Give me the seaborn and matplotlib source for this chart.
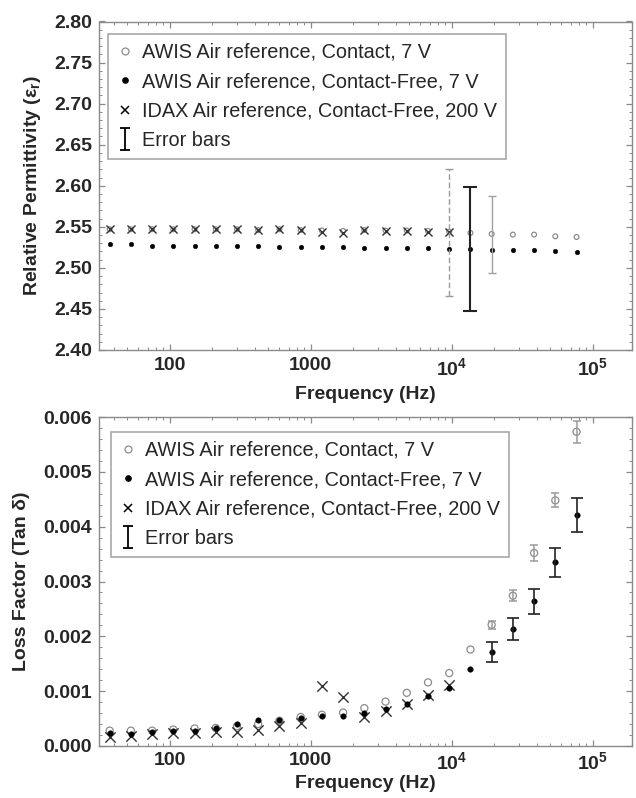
import matplotlib
matplotlib.use("Agg")
import matplotlib.pyplot as plt
import seaborn as sns
import numpy as np
import pandas as pd
from matplotlib.lines import Line2D
from matplotlib.path import Path
from matplotlib.ticker import FixedLocator, FixedFormatter, LogLocator, MultipleLocator, FormatStrFormatter, NullFormatter

# ---------------- data ----------------
freq = [37.5, 53, 75, 106, 150, 212, 300, 424, 600, 849, 1200, 1697, 2400,
        3394, 4800, 6788, 9600, 13576, 19200, 27153, 38400, 54306, 76800]
freq_idax = [37.5, 53, 75, 106, 150, 212, 300, 424, 600, 849, 1200, 1697, 2400,
             3394, 4800, 6788, 9600]

eps_contact = [2.547, 2.547, 2.547, 2.547, 2.547, 2.547, 2.547, 2.546, 2.547, 2.546,
               2.5455, 2.545, 2.546, 2.5455, 2.5455, 2.545, 2.544, 2.5426, 2.5413,
               2.5405, 2.5405, 2.5384, 2.5376]
eps_cf = [2.529, 2.5285, 2.527, 2.527, 2.527, 2.5265, 2.5265, 2.5265, 2.5256, 2.5256,
          2.5256, 2.5256, 2.5244, 2.5244, 2.5244, 2.5244, 2.5235, 2.5235, 2.522,
          2.5215, 2.5215, 2.520, 2.519]
eps_idax = [2.5475, 2.5475, 2.5475, 2.5475, 2.5475, 2.5475, 2.5475, 2.546, 2.5475,
            2.546, 2.5438, 2.5426, 2.546, 2.545, 2.545, 2.5438, 2.5438]

# permittivity error bars (frequency, centre, half-width)
eps_err_idax = (9600, 2.543, 0.077)
eps_err_cf = (13576, 2.523, 0.075)
eps_err_contact = (19200, 2.541, 0.047)

tan_contact = [0.00028, 0.00028, 0.00028, 0.00030, 0.00032, 0.00033, 0.00036, 0.00040,
               0.00046, 0.00053, 0.00057, 0.00061, 0.00069, 0.00081, 0.00097, 0.00116,
               0.00133, 0.00176, 0.00221, 0.00274, 0.00352, 0.00448, 0.00573]
tan_cf = [0.00023, 0.00021, 0.00025, 0.00027, 0.00027, 0.00033, 0.00041, 0.00047,
          0.00048, 0.00051, 0.00054, 0.00055, 0.00061, 0.00067, 0.00077, 0.00092,
          0.00106, 0.00141, 0.00171, 0.00213, 0.00264, 0.00335, 0.00421]
tan_idax = [0.00016, 0.00018, 0.00022, 0.00023, 0.00023, 0.00025, 0.00026, 0.00030,
            0.00037, 0.00042, 0.00110, 0.00089, 0.00052, 0.00064, 0.00076, 0.00093,
            0.00111]

# loss-factor error bars (last five frequencies)
err_freq = [19200, 27153, 38400, 54306, 76800]
tan_err_contact = [0.00007, 0.00010, 0.00014, 0.00013, 0.00020]
tan_err_cf = [0.00018, 0.00020, 0.00023, 0.00026, 0.00031]

labels = ["AWIS Air reference, Contact, 7 V",
          "AWIS Air reference, Contact-Free, 7 V",
          "IDAX Air reference, Contact-Free, 200 V",
          "Error bars"]

# ---------------- style ----------------
sns.set_style("ticks")
plt.rcParams["font.family"] = ["Liberation Sans", "DejaVu Sans"]
plt.rcParams["mathtext.fontset"] = "custom"
plt.rcParams["mathtext.rm"] = "Liberation Sans"
plt.rcParams["mathtext.bf"] = "Liberation Sans:bold"
plt.rcParams["mathtext.it"] = "Liberation Sans:italic"

GRAY = "#8c8c8c"
XCOL = "#333333"
SPINE = "#8a8a8a"

fig = plt.figure(figsize=(6.36, 7.98), dpi=100)
ax1 = fig.add_axes([99/636, 1-350/798, (632-99)/636, 328.5/798])
ax2 = fig.add_axes([99/636, 1-746/798, (632-99)/636, 329/798])

def scatter(ax, x, y, kind, big=False):
    if kind == "circle":
        sns.scatterplot(x=x, y=y, ax=ax, marker="o", s=(26 if big else 12), color=GRAY)
        pts = ax.collections[-1]
        pts.set_facecolor("none"); pts.set_edgecolor(GRAY); pts.set_linewidth(0.9)
    elif kind == "dot":
        sns.scatterplot(x=x, y=y, ax=ax, marker="o", s=(16 if big else 11), color="black")
        pts = ax.collections[-1]
        pts.set_edgecolor("black"); pts.set_linewidth(0.3)
    else:
        sns.scatterplot(x=x, y=y, ax=ax, marker="x", s=(55 if big else 34), color=XCOL)
        pts = ax.collections[-1]
        pts.set_edgecolor(XCOL); pts.set_facecolor(XCOL); pts.set_linewidth(1.0)

# ---------- top panel ----------
scatter(ax1, freq, eps_contact, "circle")
scatter(ax1, freq_idax, eps_idax, "x")
scatter(ax1, freq, eps_cf, "dot")
f, c, e = eps_err_idax
eb = ax1.errorbar([f], [c], yerr=[e], fmt="none", ecolor="#9a9a9a", elinewidth=1.0, capsize=3, capthick=1.0)
eb[2][0].set_linestyle((0, (4, 2)))
f, c, e = eps_err_cf
ax1.errorbar([f], [c], yerr=[e], fmt="none", ecolor="#222222", elinewidth=1.5, capsize=4.7, capthick=1.5)
f, c, e = eps_err_contact
ax1.errorbar([f], [c], yerr=[e], fmt="none", ecolor="#a0a0a0", elinewidth=1.0, capsize=3, capthick=1.0)

# ---------- bottom panel ----------
scatter(ax2, freq, tan_contact, "circle", big=True)
scatter(ax2, freq_idax, tan_idax, "x", big=True)
scatter(ax2, freq, tan_cf, "dot", big=True)
sel_c = [tan_contact[freq.index(v)] for v in err_freq]
sel_f = [tan_cf[freq.index(v)] for v in err_freq]
ax2.errorbar(err_freq, sel_c, yerr=tan_err_contact, fmt="none", ecolor="#9a9a9a",
             elinewidth=1.1, capsize=3, capthick=1.1)
ax2.errorbar(err_freq, sel_f, yerr=tan_err_cf, fmt="none", ecolor="#222222",
             elinewidth=1.2, capsize=4.2, capthick=1.2)

# ---------- axes formatting ----------
for ax, lp in ((ax1, 5), (ax2, 1)):
    ax.set_xscale("log")
    ax.set_xlim(31.5, 1.9e5)
    ax.xaxis.set_major_locator(FixedLocator([100, 1000, 1e4, 1e5]))
    ax.xaxis.set_major_formatter(FixedFormatter(["100", "1000", r"$\mathbf{10^4}$", r"$\mathbf{10^5}$"]))
    ax.xaxis.set_minor_locator(LogLocator(base=10, subs=np.arange(2, 10), numticks=20))
    ax.xaxis.set_minor_formatter(NullFormatter())
    ax.tick_params(which="both", direction="in", top=True, right=True, color=SPINE,
                   labelsize=14, pad=5)
    ax.tick_params(which="major", length=4, width=0.9)
    ax.tick_params(which="minor", length=2.5, width=0.7)
    for sp in ax.spines.values():
        sp.set_color(SPINE); sp.set_linewidth(1.0)
    ax.set_xlabel("Frequency (Hz)", fontsize=14, fontweight="bold", labelpad=lp)

ax2.tick_params(axis="x", pad=4)

ax1.set_ylim(2.40, 2.80)
ax1.yaxis.set_major_locator(MultipleLocator(0.05))
ax1.yaxis.set_minor_locator(MultipleLocator(0.01))
ax1.yaxis.set_major_formatter(FormatStrFormatter("%.2f"))
ax1.set_ylabel(r"Relative Permittivity (ε$_\mathbf{r}$)", fontsize=14, fontweight="bold", labelpad=8)

ax2.set_ylim(0.0, 0.006)
ax2.yaxis.set_major_locator(MultipleLocator(0.001))
ax2.yaxis.set_minor_locator(MultipleLocator(0.0002))
ax2.yaxis.set_major_formatter(FormatStrFormatter("%.3f"))
ax2.set_ylabel("Loss Factor (Tan δ)", fontsize=14, fontweight="bold", labelpad=10)

for ax in (ax1, ax2):
    for lbl in ax.get_xticklabels() + ax.get_yticklabels():
        lbl.set_fontweight("bold")

# ---------- legends ----------
ebar_path = Path([(-0.45, -1), (0.45, -1), (0, -1), (0, 1), (-0.45, 1), (0.45, 1)],
                 [Path.MOVETO, Path.LINETO, Path.MOVETO, Path.LINETO, Path.MOVETO, Path.LINETO])

def handles():
    return [
        Line2D([], [], ls="none", marker="o", mfc="none", mec=GRAY, mew=0.9, ms=5),
        Line2D([], [], ls="none", marker="o", mfc="black", mec="black", ms=3.8),
        Line2D([], [], ls="none", marker="x", color="black", mew=1.1, ms=6),
        Line2D([], [], ls="none", marker=ebar_path, mfc="none", mec="black", mew=1.3, ms=16),
    ]

for ax, (lx, ly) in ((ax1, (108, 34)), (ax2, (111, 432))):
    leg = ax.legend(handles(), labels, loc="upper left",
                    bbox_to_anchor=(lx/636, 1-ly/798), bbox_transform=fig.transFigure,
                    borderaxespad=0, borderpad=0.45, handlelength=0.8, handletextpad=0.45,
                    labelspacing=0.52, frameon=True, fancybox=False,
                    prop={"size": 14.3, "weight": "normal"})
    fr = leg.get_frame()
    fr.set_edgecolor("#a8a8a8"); fr.set_linewidth(1.2); fr.set_facecolor("white"); fr.set_alpha(1)

fig.savefig("out.png", dpi=100)
